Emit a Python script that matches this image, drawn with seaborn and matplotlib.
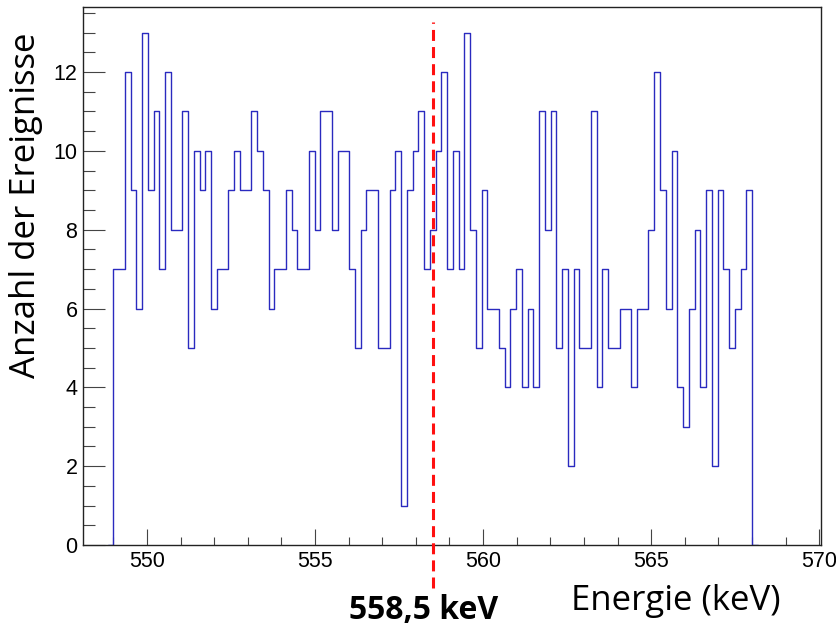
import numpy as np
import pandas as pd
import matplotlib
matplotlib.use("Agg")
import matplotlib.pyplot as plt
from matplotlib.ticker import MultipleLocator
import seaborn as sns

# ---- data ----
E_MIN = 549.0
E_MAX = 568.0
counts = [
    7, 7, 12, 9, 6, 13, 9, 11, 7, 12,
    8, 8, 11, 5, 10, 9, 10, 6, 7, 7,
    9, 10, 9, 9, 11, 10, 9, 6, 7, 7,
    9, 8, 7, 7, 10, 8, 11, 11, 8, 10,
    10, 7, 5, 8, 9, 9, 5, 5, 9, 10,
    1, 9, 10, 11, 7, 8, 10, 12, 7, 10,
    7, 13, 8, 5, 9, 6, 6, 5, 4, 6,
    7, 4, 6, 4, 11, 8, 11, 5, 7, 2,
    7, 5, 5, 11, 4, 7, 5, 5, 6, 6,
    4, 6, 6, 8, 12, 9, 6, 10, 4, 3,
    6, 8, 4, 9, 2, 9, 7, 5, 6, 7,
    9,
]
marker_energy = 558.5
marker_label = "558,5 keV"
x_label = "Energie (keV)"
y_label = "Anzahl der Ereignisse"
x_ticks = [550, 555, 560, 565, 570]
y_ticks = [0, 2, 4, 6, 8, 10, 12]

# ---- build histogram table (zero bins at both ends close the outline) ----
n = len(counts)
edges = np.linspace(E_MIN, E_MAX, n + 1)
w = edges[1] - edges[0]
edges_p = np.concatenate([[edges[0] - w], edges, [edges[-1] + w]])
counts_p = [0] + counts + [0]
centers = 0.5 * (edges_p[:-1] + edges_p[1:])
df = pd.DataFrame({"energy": centers, "count": counts_p})

sns.set_style("ticks")
plt.rcParams["font.family"] = ["Liberation Sans", "DejaVu Sans"]
plt.rcParams["text.color"] = "black"
plt.rcParams["xtick.labelcolor"] = "black"
plt.rcParams["ytick.labelcolor"] = "black"

fig = plt.figure(figsize=(8.37, 6.26), dpi=100)
ax = fig.add_axes([83 / 837, 1 - 545 / 626, (821 - 83) / 837, (545 - 7) / 626])

sns.histplot(data=df, x="energy", weights="count", bins=[float(e) for e in edges_p],
             element="step", fill=False, color="#2a2abf", linewidth=1.0, ax=ax)

ax.axvline(marker_energy, ymin=-0.080, ymax=0.972, color="#ff1010",
           linewidth=2.2, dashes=(3.6, 2.0), clip_on=False, zorder=5)

ax.set_xlim(548.1, 570.05)
ax.set_ylim(0, 13.65)
ax.set_xticks(x_ticks)
ax.set_yticks(y_ticks)
ax.xaxis.set_minor_locator(MultipleLocator(1))
ax.yaxis.set_minor_locator(MultipleLocator(0.5))
ax.set_xlabel("")
ax.set_ylabel("")

for s in ax.spines.values():
    s.set_visible(True)
    s.set_color("#222222")
    s.set_linewidth(1.0)

ax.tick_params(axis="x", which="major", direction="in", length=11.5, width=0.8,
               color="#444444", labelcolor="black", labelsize=15.5, pad=4, top=False)
ax.tick_params(axis="x", which="minor", direction="in", length=5.8, width=0.8,
               color="#444444", top=False)
ax.tick_params(axis="y", which="major", direction="in", length=16, width=0.8,
               color="#444444", labelcolor="black", labelsize=15.5, pad=4, right=False)
ax.tick_params(axis="y", which="minor", direction="in", length=8.8, width=0.8,
               color="#444444", right=False)

fig.text(781 / 837, (626 - 610) / 626, x_label, ha="right", va="baseline",
         fontsize=25, color="black", family=["Open Sans", "DejaVu Sans"])
fig.text(423.7 / 837, (626 - 619.3) / 626, marker_label, ha="center", va="baseline",
         fontsize=23, fontweight="bold", color="black", family=["Open Sans", "DejaVu Sans"])
fig.text(43.5 / 837, (626 - 205.5) / 626, y_label, rotation=90, ha="right",
         va="center", fontsize=25, color="black", family=["Open Sans", "DejaVu Sans"])

fig.savefig("out.png", dpi=100)
